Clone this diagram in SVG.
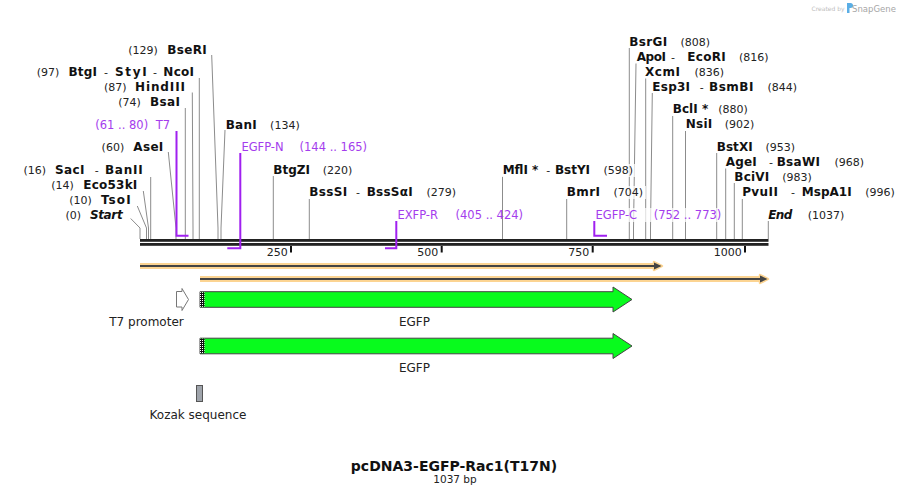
<svg xmlns="http://www.w3.org/2000/svg" width="909" height="496" viewBox="0 0 909 496">
<style>
text{font-family:"DejaVu Sans","Liberation Sans",sans-serif;text-anchor:middle}
.n{font-size:11px;fill:#222}
.b{font-size:12px;font-weight:bold;fill:#111}
.i{font-size:12px;font-weight:bold;font-style:italic;fill:#111}
.pr{font-size:11.5px;fill:#a43ded}
.f{font-size:12px;fill:#222}
.site{stroke:#8c8c8c;stroke-width:1;fill:none}
.primer{stroke:#a020f0;stroke-width:2;fill:none}
.bg{fill:#fff;fill-opacity:.72}
.bb{fill:#222}
.tick{fill:#111}
.halo{stroke:#fcd492;stroke-width:6;fill:none;stroke-linejoin:round}
.dark{stroke:#444;stroke-width:2;fill:none}
.cds{fill:#08fb1d;stroke:#444;stroke-width:1}
</style>
<defs>
<pattern id="dots" width="2" height="2" patternUnits="userSpaceOnUse"><rect width="2" height="2" fill="#111"/><rect width="1" height="1" fill="#fff"/></pattern>
</defs>

<g id="connectors">
<path class="site" d="M130.7,218.5 L140,228 V239"/>
<path class="site" d="M137.3,206 L146.5,228 V239"/>
<path class="site" d="M143.3,191 L148.5,228 V239"/>
<path class="site" d="M150.7,177 V239"/>
<path class="site" d="M168.3,152 L176,228 V239"/>
<path class="site" d="M185.3,108 V239"/>
<path class="site" d="M192.3,92.5 L193,228 V239"/>
<path class="site" d="M199.3,78 V239"/>
<path class="site" d="M211.7,55 L218,228 V239"/>
<path class="site" d="M225,130 L221,228 V239"/>
<path class="site" d="M273.3,176 V239"/>
<path class="site" d="M309.3,199 V239"/>
<path class="site" d="M502.5,176.5 V239"/>
<path class="site" d="M566.7,199 V239"/>
<path class="site" d="M629.3,48 V239"/>
<path class="site" d="M636,63.5 L633.5,228 V239"/>
<path class="site" d="M645.7,78.5 V239"/>
<path class="site" d="M652.3,93 L650.5,228 V239"/>
<path class="site" d="M672.7,116 V239"/>
<path class="site" d="M685.5,131 V239"/>
<path class="site" d="M716.7,153 V239"/>
<path class="site" d="M725.7,168.5 V239"/>
<path class="site" d="M734.3,183 V239"/>
<path class="site" d="M742.3,199 V239"/>
<path class="site" d="M768.3,221 V239"/>
</g>

<g id="backbone">
<rect class="bb" x="140" y="239" width="628.5" height="2.8"/>
<rect class="bb" x="140" y="243" width="628.5" height="2.8"/>
<rect class="tick" x="290" y="246" width="2" height="6.5"/>
<rect class="tick" x="440.7" y="246" width="2" height="6.5"/>
<rect class="tick" x="591.7" y="246" width="2" height="6.5"/>
<rect class="tick" x="744" y="246" width="2" height="6.5"/>
<text class="n" x="277.2" y="255.5">250</text>
<text class="n" x="427.8" y="255.5">500</text>
<text class="n" x="578.8" y="255.5">750</text>
<text class="n" x="727.7" y="255.5">1000</text>
</g>

<g id="primer-T7">
<path class="primer" d="M176.5,131 V235.8 H188.5"/>
<text class="pr" x="121.7" y="129">(61 .. 80)</text>
<text class="pr" x="163" y="129">T7</text>
</g>
<g id="primer-EGFP-N">
<path class="primer" d="M240.3,153 V248.3 H227.3"/>
<text class="pr" x="262.5" y="150.5">EGFP-N</text>
<text class="pr" x="333.3" y="150.5">(144 .. 165)</text>
</g>
<g id="primer-EXFP-R">
<path class="primer" d="M396.3,221 V248.3 H385"/>
<text class="pr" x="417.7" y="219">EXFP-R</text>
<text class="pr" x="489.3" y="219">(405 .. 424)</text>
</g>
<g id="primer-EGFP-C">
<rect class="bg" x="592" y="208" width="131" height="14"/>
<path class="primer" d="M594.3,221 V235.8 H607"/>
<text class="pr" x="616.3" y="219">EGFP-C</text>
<text class="pr" x="687.5" y="219">(752 .. 773)</text>
</g>

<g id="site-Start"><text class="n" x="73.2" y="219">(0)</text><text class="i" x="106.3" y="219" textLength="32.7" lengthAdjust="spacing">Start</text></g>
<g id="site-TsoI"><text class="n" x="80.5" y="204">(10)</text><text class="b" x="115.8" y="204" textLength="29.7" lengthAdjust="spacing">TsoI</text></g>
<g id="site-Eco53kI"><text class="n" x="62.5" y="189">(14)</text><text class="b" x="110.3" y="189" textLength="54" lengthAdjust="spacing">Eco53kI</text></g>
<g id="site-SacI"><text class="n" x="34.7" y="174">(16)</text><text class="b" x="69.7" y="174" textLength="29.3" lengthAdjust="spacing">SacI</text><text class="n" x="96.7" y="174">-</text><text class="b" x="123.8" y="174" textLength="37.7" lengthAdjust="spacing">BanII</text></g>
<g id="site-AseI"><text class="n" x="112.9" y="150.5">(60)</text><text class="b" x="148.3" y="150.5" textLength="30" lengthAdjust="spacing">AseI</text></g>
<g id="site-BsaI"><text class="n" x="129.5" y="106">(74)</text><text class="b" x="165" y="106" textLength="30" lengthAdjust="spacing">BsaI</text></g>
<g id="site-HindIII"><text class="n" x="115.2" y="91">(87)</text><text class="b" x="160" y="91" textLength="50" lengthAdjust="spacing">HindIII</text></g>
<g id="site-BtgI"><text class="n" x="48" y="76">(97)</text><text class="b" x="82.7" y="76" textLength="28.5" lengthAdjust="spacing">BtgI</text><text class="n" x="106" y="76">-</text><text class="b" x="130.8" y="76" textLength="31.7" lengthAdjust="spacing">StyI</text><text class="n" x="155" y="76">-</text><text class="b" x="178.7" y="76" textLength="30.7" lengthAdjust="spacing">NcoI</text></g>
<g id="site-BseRI"><text class="n" x="143" y="54">(129)</text><text class="b" x="187" y="54" textLength="39.4" lengthAdjust="spacing">BseRI</text></g>
<g id="site-BanI"><text class="b" x="241.2" y="129" textLength="31" lengthAdjust="spacing">BanI</text><text class="n" x="284.9" y="129">(134)</text></g>
<g id="site-BtgZI"><text class="b" x="291.7" y="174" textLength="36.7" lengthAdjust="spacing">BtgZI</text><text class="n" x="337.5" y="174">(220)</text></g>
<g id="site-BssSI"><text class="b" x="328.3" y="196" textLength="38" lengthAdjust="spacing">BssSI</text><text class="n" x="358" y="196">-</text><text class="b" x="389.7" y="196" textLength="46" lengthAdjust="spacing">BssSαI</text><text class="n" x="441.3" y="196">(279)</text></g>
<g id="site-MflI"><rect class="bg" x="500" y="164" width="136" height="13"/><text class="b" x="520.5" y="174" textLength="35.6" lengthAdjust="spacing">MflI *</text><text class="n" x="548.3" y="174">-</text><text class="b" x="572.5" y="174" textLength="35" lengthAdjust="spacing">BstYI</text><text class="n" x="618.3" y="174">(598)</text></g>
<g id="site-BmrI"><rect class="bg" x="564" y="186" width="82" height="13"/><text class="b" x="583.3" y="196" textLength="33.3" lengthAdjust="spacing">BmrI</text><text class="n" x="628.3" y="196">(704)</text></g>
<g id="site-BsrGI"><text class="b" x="648.3" y="45.7" textLength="38" lengthAdjust="spacing">BsrGI</text><text class="n" x="695.3" y="45.7">(808)</text></g>
<g id="site-ApoI"><text class="b" x="651.3" y="60.7" textLength="29.3" lengthAdjust="spacing">ApoI</text><text class="n" x="673" y="60.7">-</text><text class="b" x="706.5" y="60.7" textLength="38.4" lengthAdjust="spacing">EcoRI</text><text class="n" x="753.7" y="60.7">(816)</text></g>
<g id="site-XcmI"><text class="b" x="662.5" y="75.7" textLength="35" lengthAdjust="spacing">XcmI</text><text class="n" x="709.2" y="75.7">(836)</text></g>
<g id="site-Esp3I"><text class="b" x="671.2" y="90.7" textLength="37.7" lengthAdjust="spacing">Esp3I</text><text class="n" x="701.7" y="90.7">-</text><text class="b" x="731.2" y="90.7" textLength="44.3" lengthAdjust="spacing">BsmBI</text><text class="n" x="782.3" y="90.7">(844)</text></g>
<g id="site-BclI"><text class="b" x="690.5" y="113.3" textLength="35.6" lengthAdjust="spacing">BclI *</text><text class="n" x="733" y="113.3">(880)</text></g>
<g id="site-NsiI"><text class="b" x="699" y="128.3" textLength="26.6" lengthAdjust="spacing">NsiI</text><text class="n" x="739.5" y="128.3">(902)</text></g>
<g id="site-BstXI"><text class="b" x="734.7" y="150.7" textLength="36" lengthAdjust="spacing">BstXI</text><text class="n" x="780.2" y="150.7">(953)</text></g>
<g id="site-AgeI"><text class="b" x="741.2" y="166" textLength="31" lengthAdjust="spacing">AgeI</text><text class="n" x="771" y="166">-</text><text class="b" x="798.3" y="166" textLength="43.3" lengthAdjust="spacing">BsaWI</text><text class="n" x="849.3" y="166">(968)</text></g>
<g id="site-BciVI"><text class="b" x="751.8" y="180.7" textLength="35" lengthAdjust="spacing">BciVI</text><text class="n" x="797" y="180.7">(983)</text></g>
<g id="site-PvuII"><text class="b" x="760" y="196" textLength="35.7" lengthAdjust="spacing">PvuII</text><text class="n" x="793" y="196">-</text><text class="b" x="826.7" y="196" textLength="50" lengthAdjust="spacing">MspA1I</text><text class="n" x="880" y="196">(996)</text></g>
<g id="site-End"><text class="i" x="780.3" y="219" textLength="24" lengthAdjust="spacing">End</text><text class="n" x="826" y="219">(1037)</text></g>

<g id="orf-1">
<path class="halo" d="M140,266 H657"/>
<polygon points="654,262 662,266 654,270" fill="#444" stroke="#fcd492" stroke-width="2.5" stroke-linejoin="round"/>
<path class="dark" d="M140,266 H656"/>
<polygon points="654,262.5 661.5,266 654,269.5" fill="#444"/>
</g>
<g id="orf-2">
<path class="halo" d="M200,279 H763"/>
<polygon points="760,275 768,279 760,283" fill="#444" stroke="#fcd492" stroke-width="2.5" stroke-linejoin="round"/>
<path class="dark" d="M200,279 H762"/>
<polygon points="760,275.5 767.5,279 760,282.5" fill="#444"/>
</g>

<g id="feature-T7-promoter">
<path d="M176.5,291.5 H182 V288.5 L188.5,299.5 L182,310.5 V307 H176.5 Z" fill="#fff" stroke="#777" stroke-width="1"/>
<text class="f" x="146.5" y="325.5">T7 promoter</text>
</g>
<g id="feature-EGFP-1">
<path class="cds" d="M200,291.7 H613 V287 L632,299.5 L613,312 V307.3 H200 Z"/>
<rect x="200" y="292.2" width="4.5" height="14.6" fill="url(#dots)"/>
<text class="f" x="414.5" y="325.5">EGFP</text>
</g>
<g id="feature-EGFP-2">
<path class="cds" d="M200,338.2 H613 V333.5 L632,346 L613,358.5 V353.8 H200 Z"/>
<rect x="200" y="338.7" width="4.5" height="14.6" fill="url(#dots)"/>
<text class="f" x="414.5" y="372">EGFP</text>
</g>
<g id="feature-Kozak">
<rect x="196.5" y="385.5" width="6" height="16" fill="#9fa4ab" stroke="#555" stroke-width="1"/>
<text class="f" x="198" y="418.5">Kozak sequence</text>
</g>

<g id="title">
<text x="454" y="470.7" style="font-size:14px;font-weight:bold;fill:#111">pcDNA3-EGFP-Rac1(T17N)</text>
<text x="455" y="483.3" style="font-size:10.5px;fill:#222">1037 bp</text>
</g>

<g id="credit">
<text x="828" y="11" style="font-size:6px;fill:#bdbdbd">Created by</text>
<path d="M847,3 H850.5 A2.5,2.5 0 0 1 850.5,8 H849.5 V13 H847 Z" fill="#5aaee6"/>
<text x="874" y="11.5" style="font-size:8.5px;fill:#a6a6a6">SnapGene</text>
</g>
</svg>
